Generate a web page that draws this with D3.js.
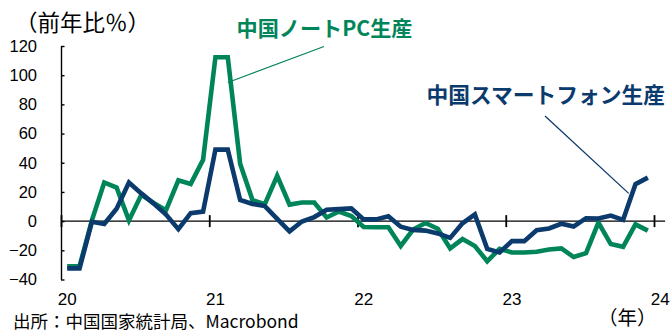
<!DOCTYPE html>
<html>
<head>
<meta charset="utf-8">
<script src="https://cdn.jsdelivr.net/npm/d3@7"></script>
<style>
  body { margin: 0; background: #fff; }
  svg { display: block; }
  .num { font-family: "Liberation Sans", Arial, sans-serif; font-size: 16.5px; fill: #000; }
  .jp { font-family: "Noto Sans CJK JP", sans-serif; }
</style>
</head>
<body>
<svg width="672" height="330"></svg>
<script>
// monthly, Jan 2020 - Dec 2023 (Jan/Feb reported together)
const START_YEAR = 2020
const MONTH_COUNT = 48
const yearLabels = ['20', '21', '22', '23', '24']
const yTicks = [-40, -20, 0, 20, 40, 60, 80, 100, 120]

// 中国ノートPC生産 (前年比%)
const notebookPC = [
  -31, -31, 0.5, 26.5, 23, 0.5, 18, 12.5, 7.5, 28, 25.5, 42,
  112.3, 112.3, 39.4, 14.4, 11.6, 31, 11.3, 12.8, 12.8, 2.5, 6.6, 3.5,
  -4, -4.2, -4.2, -17, -5.8, -1.3, -5.2, -18.7, -12.3, -17, -27.5, -19,
  -21.5, -21.5, -21, -19.5, -18.7, -24.6, -22, -1, -15.7, -17.6, -2.2, -6.5
]
// 中国スマートフォン生産 (前年比%)
const smartphone = [
  -32.4, -32.4, -0.5, -2, 8.5, 26.5, 19, 12, 4.5, -5.5, 5.5, 6.5,
  49, 49, 14.5, 11.8, 10.3, 1.5, -7, -0.3, 2.8, 7.8, 8.2, 8.7,
  1.2, 1.2, 3.4, -3.8, -6, -6.5, -8.4, -11.5, -1.5, 4.6, -19, -21.5,
  -13.7, -13.7, -6.2, -5, -1.8, -3.7, 2, 1.8, 3.8, 0.9, 25.3, 29.8
]

const GREEN = '#00855a'
const NAVY = '#0b3a6c'

const svg = d3.select('svg')

// month index scale, one band per month
const x = d3.scaleLinear()
    .domain([0, MONTH_COUNT])
    .range([61, 654])
const y = d3.scaleLinear()
    .domain([-40, 120])
    .range([279.5, 46])

// y axis (ticks pointing inside)
const yAxis = svg.append('g')
    .attr('transform', `translate(${x(0)},0)`)
    .call(d3.axisLeft(y).tickValues(yTicks).tickSizeInner(-3.5).tickSizeOuter(0).tickPadding(24))
yAxis.select('.domain').attr('stroke-width', 1.4)
yAxis.selectAll('.tick line').attr('stroke-width', 1.4)
yAxis.selectAll('text').attr('class', 'num').attr('fill', null).attr('font-size', null).attr('font-family', null)

// x axis at zero, year ticks crossing the line
const yearIdx = yearLabels.map((d, i) => i * 12)
const xAxis = svg.append('g')
    .attr('transform', `translate(0,${y(0)})`)
    .call(d3.axisBottom(x).tickValues(yearIdx).tickSize(6).tickSizeOuter(0).tickFormat(''))
xAxis.select('.domain').remove()
xAxis.selectAll('.tick line').attr('y1', -6).attr('stroke-width', 1.8)
xAxis.append('line')
    .attr('x1', x(0)).attr('x2', x(MONTH_COUNT + 0.9))
    .attr('stroke', '#000').attr('stroke-width', 1.4)

svg.append('g').selectAll('text')
    .data(yearLabels)
    .join('text')
    .attr('class', 'num')
    .attr('x', (d, i) => x(i * 12 + 0.5))
    .attr('y', 305)
    .attr('text-anchor', 'middle')
    .style('font-size', '17px')
    .text(d => d)

// lines
const line = d3.line()
    .x((d, i) => x(i + 0.5))
    .y(d => y(d))

svg.append('path')
    .datum(notebookPC)
    .attr('d', line)
    .attr('fill', 'none')
    .attr('stroke', GREEN)
    .attr('stroke-width', 4.6)
svg.append('path')
    .datum(smartphone)
    .attr('d', line)
    .attr('fill', 'none')
    .attr('stroke', NAVY)
    .attr('stroke-width', 4.6)

// leader lines
svg.append('line')
    .attr('x1', x(13.5)).attr('y1', y(95))
    .attr('x2', 324).attr('y2', 46.5)
    .attr('stroke', GREEN).attr('stroke-width', 1.3)
svg.append('line')
    .attr('x1', x(45.95)).attr('y1', y(19))
    .attr('x2', 545).attr('y2', 116)
    .attr('stroke', NAVY).attr('stroke-width', 1.3)

// labels
svg.append('text')
    .attr('class', 'jp')
    .attr('x', 236.5).attr('y', 36)
    .attr('font-size', 21).attr('font-weight', 700)
    .attr('fill', GREEN)
    .attr('textLength', 176).attr('lengthAdjust', 'spacingAndGlyphs')
    .text('中国ノートPC生産')
svg.append('text')
    .attr('class', 'jp')
    .attr('x', 426.5).attr('y', 103)
    .attr('font-size', 22).attr('font-weight', 700)
    .attr('fill', NAVY)
    .attr('textLength', 238.5).attr('lengthAdjust', 'spacingAndGlyphs')
    .text('中国スマートフォン生産')

svg.append('text')
    .attr('class', 'jp')
    .attr('x', 15).attr('y', 31)
    .attr('font-size', 22.5)
    .text('（前年比％）')
svg.append('text')
    .attr('class', 'jp')
    .attr('x', 598).attr('y', 325)
    .attr('font-size', 19.5)
    .text('（年）')
svg.append('text')
    .attr('class', 'jp')
    .attr('x', 13).attr('y', 328)
    .attr('font-size', 17.5)
    .text('出所：中国国家統計局、Macrobond')
</script>
</body>
</html>
